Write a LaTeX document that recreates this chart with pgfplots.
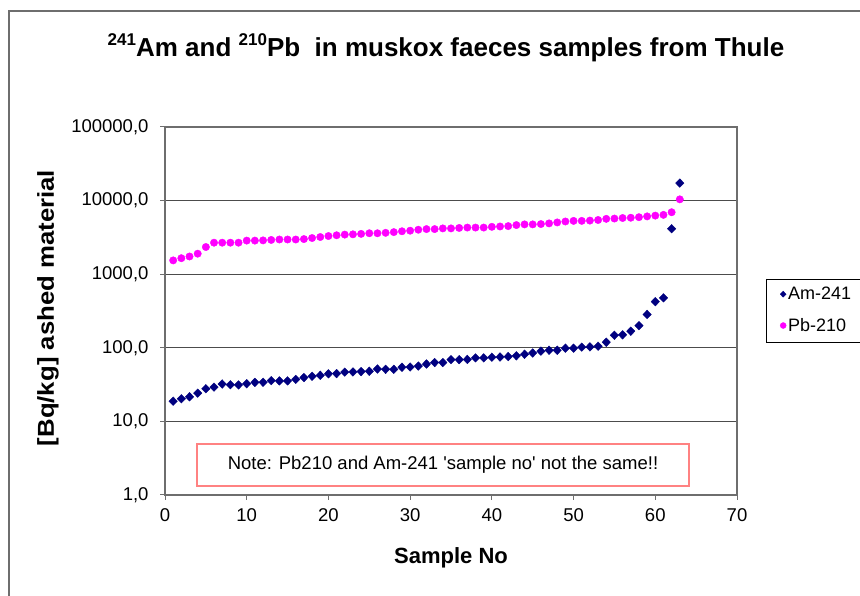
\documentclass[border=0pt]{standalone}
\usepackage{pgfplots}
\pgfplotsset{compat=1.18}
\usepackage{fontspec}
\setmainfont{Liberation Sans}
\definecolor{amnavy}{RGB}{0,0,128}
\definecolor{pbmag}{RGB}{255,0,255}
\definecolor{axgray}{RGB}{110,110,110}
\definecolor{notered}{RGB}{255,130,130}
\newcommand{\sups}[1]{\raisebox{0.42em}{\fontsize{17}{17}\selectfont #1}}
\begin{document}
\begin{tikzpicture}[x=1pt,y=1pt]
\path[use as bounding box] (0,0) rectangle (860,596);
\begin{scope}
\clip (0,0) rectangle (860,596);
\fill[white] (0,0) rectangle (860,596);
\draw[axgray, line width=1.2pt] (9,-5) -- (9,585) -- (865,585);
\draw[black, line width=0.8pt] (766,317) -- (870,317);
\draw[black, line width=0.8pt] (766,254) -- (870,254);
\draw[black, line width=0.8pt] (766,317) -- (766,254);
\end{scope}
\begin{axis}[
  at={(165pt,101pt)}, anchor=south west,
  scale only axis, width=572pt, height=368pt,
  xmin=0, xmax=70, ymode=log, ymin=1, ymax=100000,
  xtick={0,10,20,30,40,50,60,70},
  xticklabels={0,10,20,30,40,50,60,70},
  ytick={1,10,100,1000,10000,100000},
  yticklabels={{1,0},{10,0},{100,0},{1000,0},{10000,0},{100000,0}},
  yminorticks=false,
  tick pos=left, tick align=outside, major tick length=5pt,
  tick style={axgray, line width=1pt},
  axis line style={axgray, line width=1.2pt},
  ymajorgrids, major grid style={black!70, line width=1.1pt},
  ticklabel style={font=\fontsize{18.5}{21}\selectfont},
  yticklabel style={xshift=-8pt},
  xticklabel style={yshift=-5pt},
  legend style={at={(1.0507,0.587)}, anchor=north west, draw=none, fill=none,
    font=\fontsize{18}{20}\selectfont, row sep=13pt, inner ysep=6pt, inner xsep=14pt,
    /tikz/every even column/.append style={column sep=8pt}},
  legend cell align=left,
  legend image post style={mark size=3pt},
  clip=false,
]
\addplot[only marks, mark=diamond*, mark size=4.3pt, color=amnavy, mark options={xscale=1.3}] coordinates {
(1,18.8) (2,20.3) (3,21.6) (4,24.2) (5,27.8) (6,29.2) (7,32.2) (8,31.5) (9,31.3) (10,32.5)
(11,33.9) (12,34.0) (13,35.8) (14,35.5) (15,35.5) (16,37.2) (17,39.4) (18,41.0) (19,42.3) (20,44.3)
(21,44.6) (22,46.7) (23,47.0) (24,47.5) (25,48.0) (26,51.5) (27,51.0) (28,51.0) (29,54.4) (30,54.8)
(31,56.5) (32,60.2) (33,63.0) (34,63.0) (35,69.0) (36,69.0) (37,69.5) (38,73) (39,73) (40,74.5)
(41,75) (42,76) (43,77.8) (44,81.7) (45,85) (46,90) (47,92.6) (48,92.6) (49,98.8) (50,98.8)
(51,102) (52,103) (53,105) (54,119) (55,148) (56,150) (57,168) (58,200) (59,284) (60,423)
(61,477) (62,4150) (63,17300)
};
\addlegendentry{Am-241}
\addplot[only marks, mark=*, mark size=3.7pt, color=pbmag] coordinates {
(1,1540) (2,1650) (3,1740) (4,1900) (5,2340) (6,2680) (7,2680) (8,2680) (9,2680) (10,2860)
(11,2860) (12,2880) (13,2920) (14,2960) (15,2960) (16,2960) (17,3000) (18,3100) (19,3200) (20,3300)
(21,3380) (22,3450) (23,3480) (24,3530) (25,3600) (26,3600) (27,3650) (28,3730) (29,3830) (30,3900)
(31,4020) (32,4100) (33,4100) (34,4190) (35,4190) (36,4250) (37,4300) (38,4300) (39,4300) (40,4400)
(41,4450) (42,4500) (43,4650) (44,4750) (45,4750) (46,4800) (47,4900) (48,5050) (49,5200) (50,5300)
(51,5300) (52,5350) (53,5450) (54,5650) (55,5700) (56,5800) (57,5850) (58,5950) (59,6100) (60,6250)
(61,6400) (62,6950) (63,10400)
};
\addlegendentry{Pb-210}
\end{axis}
\node[font=\bfseries\fontsize{26}{30}\selectfont] at (446,548) {\sups{241}Am and \sups{210}Pb\ \ in muskox faeces samples from Thule};
\node[rotate=90, font=\bfseries\fontsize{23}{26}\selectfont] at (48,288) {\scalebox{1.12}[1]{[Bq/kg] ashed material}};
\node[font=\bfseries\fontsize{22}{26}\selectfont] at (451,38) {Sample No};
\node[draw=notered, line width=1.3pt, minimum width=492pt, minimum height=42pt, font=\fontsize{18.5}{21}\selectfont] at (443,131) {Note: Pb210 and Am-241 \textquotesingle sample no\textquotesingle\ not the same!!};
\end{tikzpicture}
\end{document}
